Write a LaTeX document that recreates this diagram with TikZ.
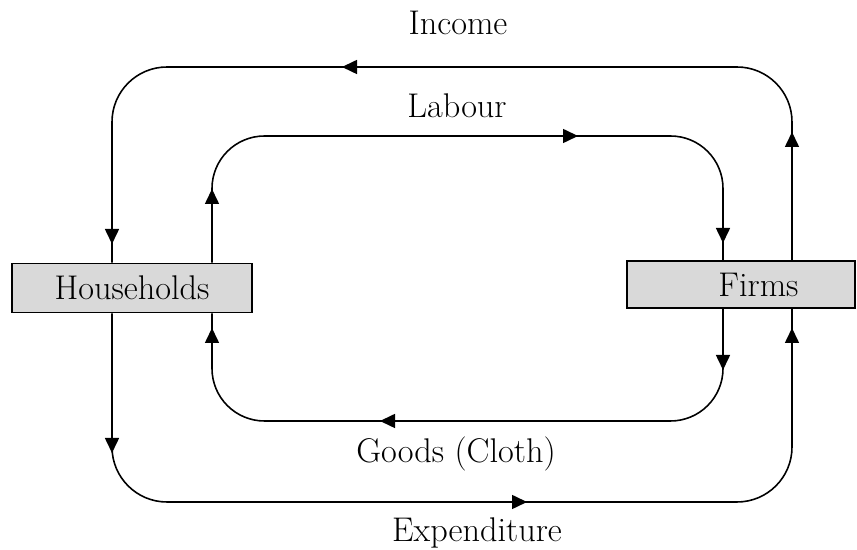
\documentclass[tikz,border=0pt]{standalone}
\usetikzlibrary{arrows.meta}
\definecolor{boxgray}{RGB}{217,217,217}
\begin{document}
\begin{tikzpicture}[
    flow/.style={line width=0.9pt, rounded corners=1.1cm},
    tip/.style={line width=0.9pt, -{Triangle[length=0.3cm,width=0.28cm]}},
    sector/.style={draw, line width=1.1pt, fill=boxgray, minimum height=0.98cm, inner sep=0pt, font=\fontsize{19.5}{22}\selectfont},
    lbl/.style={anchor=base, font=\fontsize{19.5}{22}\selectfont}
    ]
            \useasboundingbox (0, 0) rectangle (17.14, 11);

            %%the two sectors
            \node[sector, minimum width=4.8cm] (hh) at (2.64, 5.24){Households\hspace{0.32cm}};
            \node[sector, minimum width=4.56cm, minimum height=0.94cm] (fi) at (14.82, 5.31){\hspace{0.7cm}Firms};

            %%corners of the loops
            \coordinate (oTL) at (2.24, 9.66);
            \coordinate (oTR) at (15.84, 9.66);
            \coordinate (iTL) at (4.24, 8.28);
            \coordinate (iTR) at (14.46, 8.28);
            \coordinate (iBL) at (4.24, 2.58);
            \coordinate (iBR) at (14.46, 2.58);
            \coordinate (oBL) at (2.24, 0.96);
            \coordinate (oBR) at (15.84, 0.96);

            %%Income
            \draw[flow] (fi.north -| oTR) -- (oTR) -- (oTL) -- (hh.north -| oTL);
                \draw[tip] (15.84, 8.2) to (15.84, 8.36);
                \draw[tip] (7.0, 9.66) to (6.84, 9.66);
                \draw[tip] (2.24, 6.28) to (2.24, 6.12);
                \node[lbl] (income) at (9.16, 10.3){Income};

            %%Labour
            \draw[flow, rounded corners=1.05cm] (hh.north -| iTL) -- (iTL) -- (iTR) -- (fi.north -| iTR);
                \draw[tip] (4.24, 7.06) to (4.24, 7.22);
                \draw[tip] (11.4, 8.28) to (11.56, 8.28);
                \draw[tip] (14.46, 6.3) to (14.46, 6.14);
                \node[lbl] (labour) at (9.14, 8.64){Labour};

            %%Goods
            \draw[flow, rounded corners=1.05cm] (fi.south -| iBR) -- (iBR) -- (iBL) -- (hh.south -| iBL);
                \draw[tip] (14.46, 3.76) to (14.46, 3.6);
                \draw[tip] (7.76, 2.58) to (7.6, 2.58);
                \draw[tip] (4.24, 4.28) to (4.24, 4.44);
                \node[lbl] (goods) at (9.12, 1.74){Goods (Cloth)};

            %%Expenditure
            \draw[flow] (hh.south -| oBL) -- (oBL) -- (oBR) -- (fi.south -| oBR);
                \draw[tip] (2.24, 2.1) to (2.24, 1.94);
                \draw[tip] (10.38, 0.96) to (10.54, 0.96);
                \draw[tip] (15.84, 4.28) to (15.84, 4.44);
                \node[lbl] (expenditure) at (9.54, 0.16){Expenditure};
        \end{tikzpicture}
\end{document}
